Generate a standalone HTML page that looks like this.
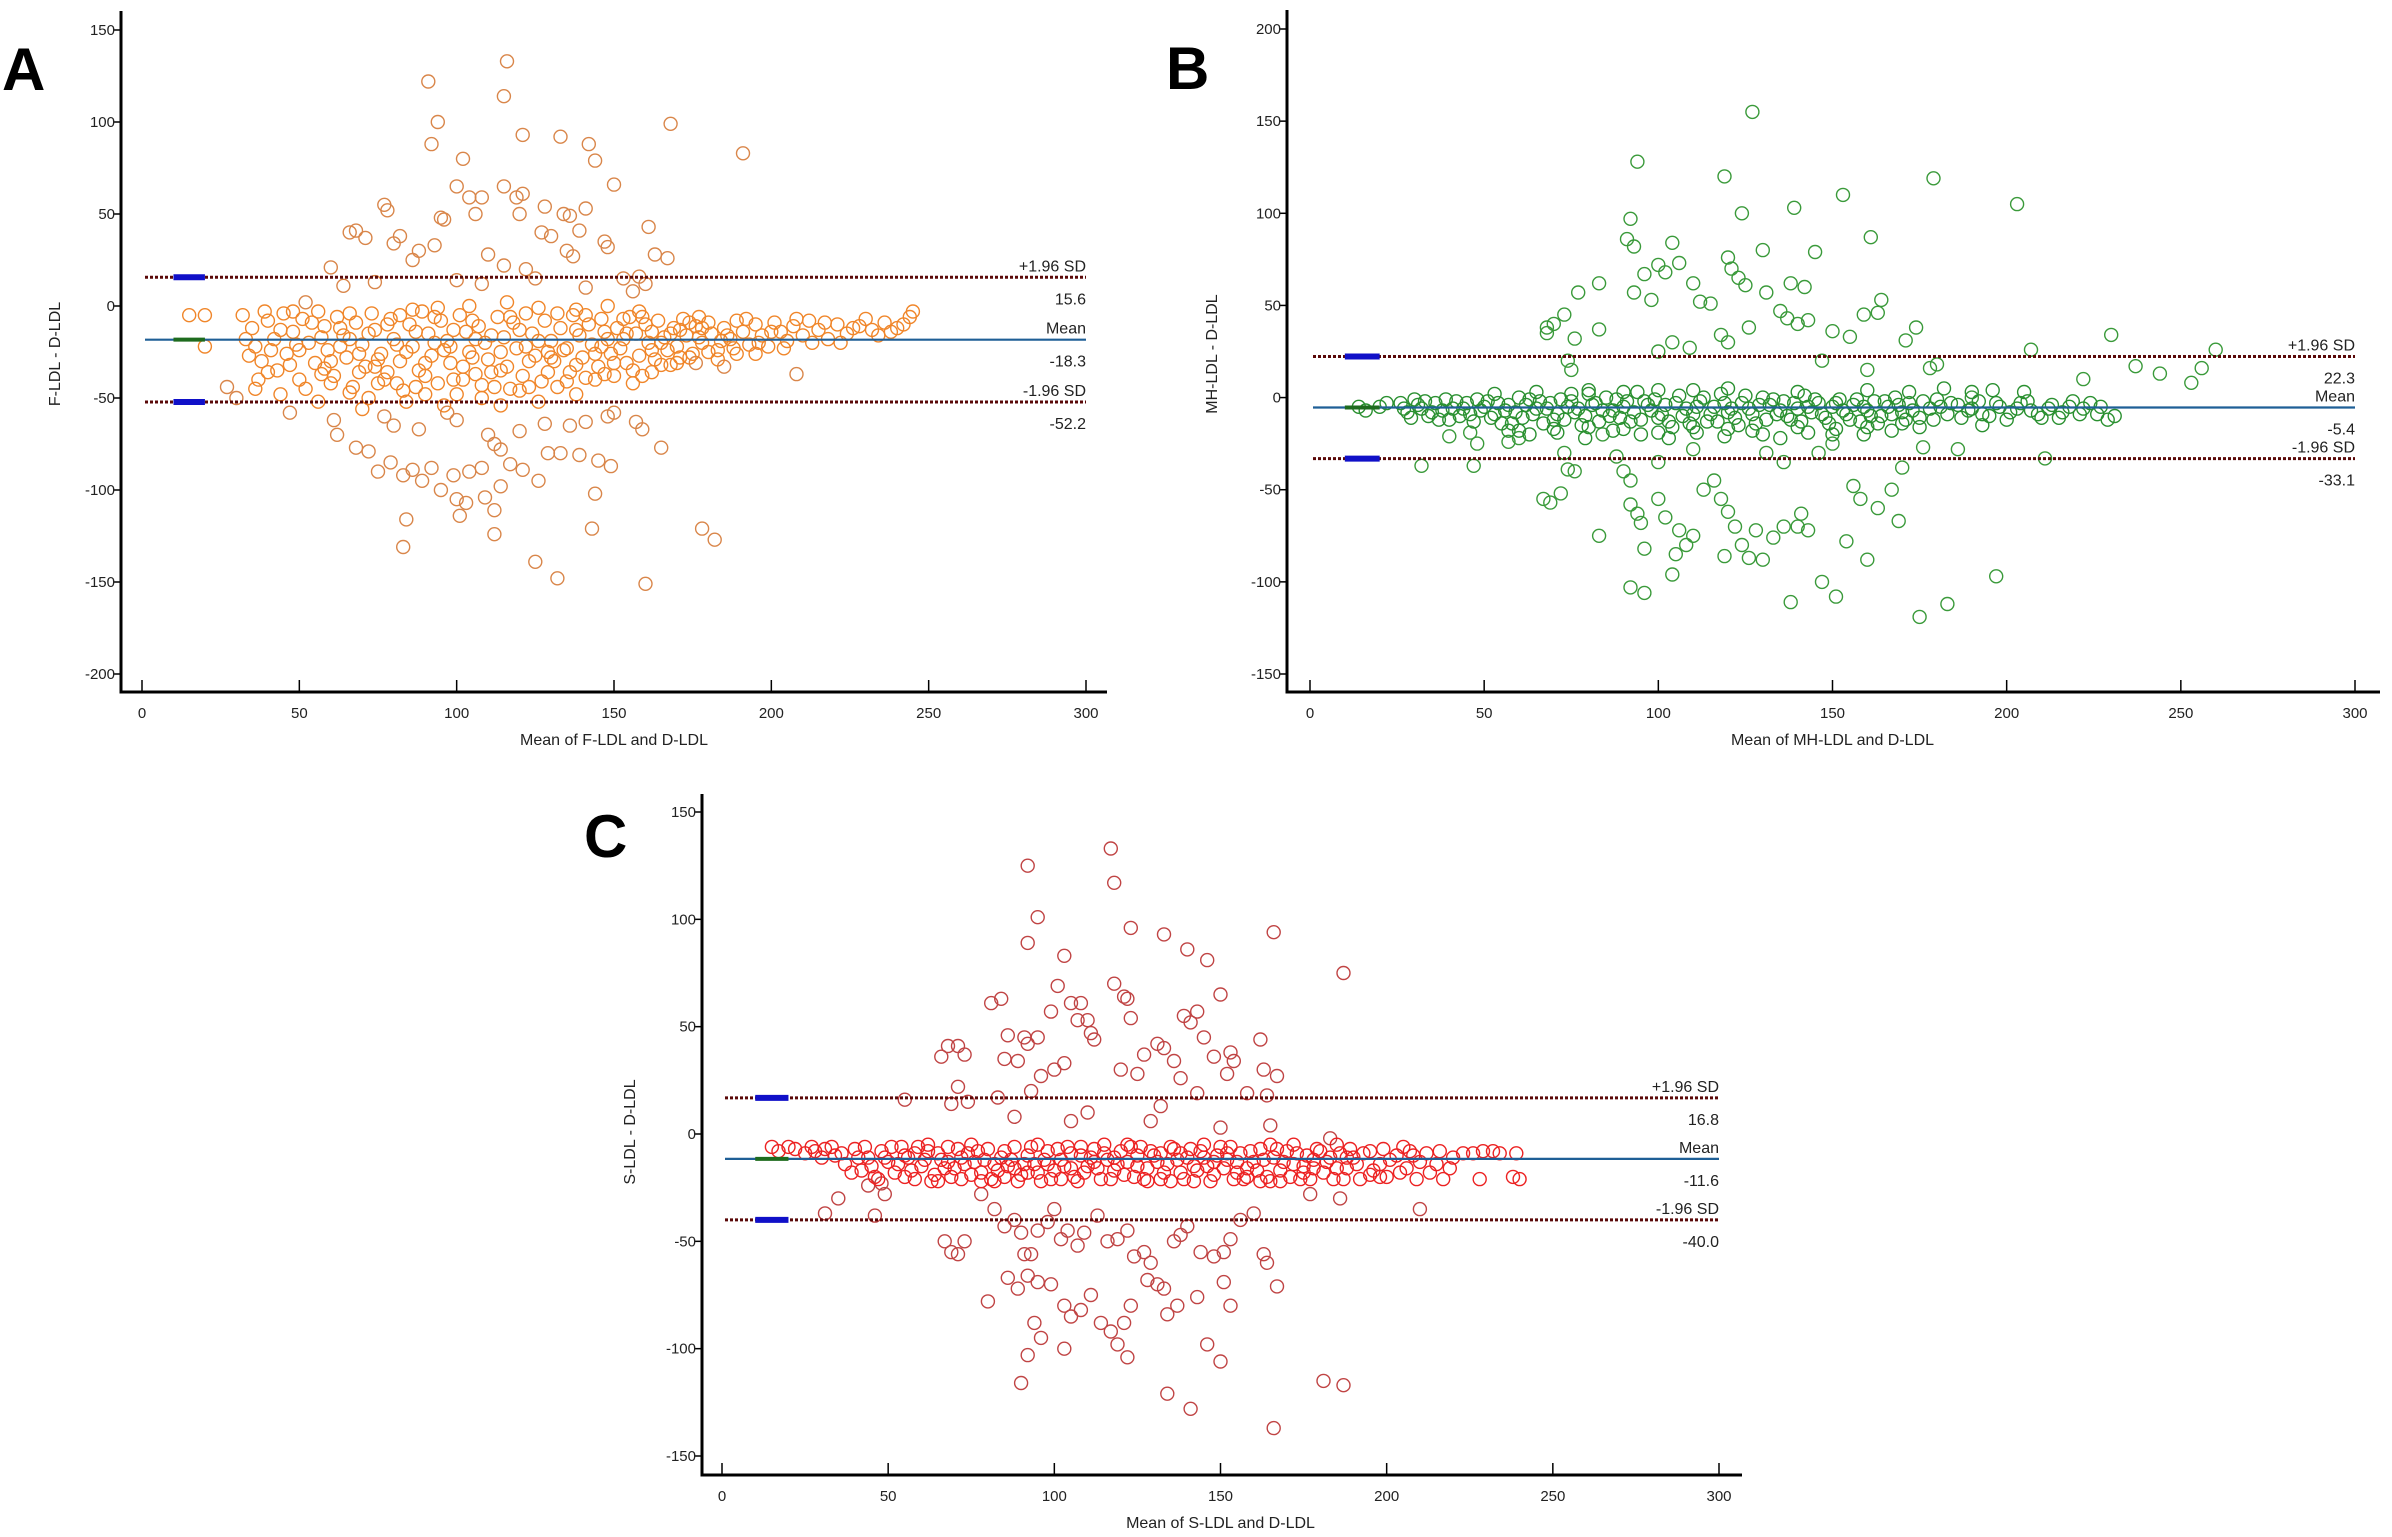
<!DOCTYPE html>
<html><head><meta charset="utf-8">
<style>
html,body{margin:0;padding:0;background:#fff;}
svg{display:block;font-family:"Liberation Sans",Arial,sans-serif;}
</style></head>
<body>
<svg id="fig" width="2392" height="1537" viewBox="0 0 2392 1537" xmlns="http://www.w3.org/2000/svg">
<rect width="2392" height="1537" fill="#fff"/>
</svg>
<script>
// ---------- Panel A data (F-LDL) ----------
const aOutliers = "91,122 116,133 115,114 94,100 92,88 168,99 191,83 121,93 133,92 142,88 102,80 144,79 150,66 115,65 100,65 104,59 108,59 119,59 121,61 120,50 77,55 78,52 141,53 128,54 134,50 136,49 106,50 161,43 96,47 66,40 68,41 71,37 82,38 80,34 95,48 130,38 127,40 139,41 147,35 148,32 167,26 163,28 60,21 88,30 93,33 110,28 115,22 122,20 137,27 135,30 153,15 158,16 156,8 160,12 52,2 86,25 74,13 64,11 100,14 108,12 125,15 141,10 27,-44 30,-50 47,-58 61,-62 62,-70 77,-60 80,-65 88,-67 97,-58 100,-62 110,-70 112,-75 120,-68 128,-64 136,-65 141,-63 148,-60 150,-58 157,-63 159,-67 165,-77 208,-37 185,-33 176,-31 75,-90 79,-85 83,-92 86,-89 89,-95 92,-88 95,-100 99,-92 104,-90 108,-88 114,-78 117,-86 121,-89 126,-95 129,-80 133,-80 139,-81 145,-84 149,-87 84,-116 83,-131 100,-105 101,-114 103,-107 109,-104 112,-111 112,-124 114,-98 125,-139 132,-148 144,-102 143,-121 160,-151 178,-121 182,-127 72,-79 68,-77";
const aBand = "32,-5 35,-12 36,-22 38,-30 40,-8 42,-18 43,-35 45,-4 46,-26 48,-14 50,-40 51,-7 53,-20 55,-31 56,-3 58,-11 59,-24 61,-38 62,-6 64,-16 65,-28 67,-44 68,-9 70,-21 71,-33 73,-4 74,-13 76,-26 77,-40 79,-7 80,-18 82,-30 83,-46 85,-10 86,-22 88,-35 89,-3 91,-15 92,-27 94,-42 95,-8 97,-19 98,-31 100,-48 101,-5 103,-14 104,-25 106,-37 107,-11 109,-20 110,-29 112,-44 113,-6 115,-17 116,-33 118,-9 119,-23 121,-38 122,-4 124,-15 125,-27 127,-41 128,-8 130,-19 131,-30 133,-12 134,-24 136,-36 137,-5 139,-16 140,-28 142,-10 143,-21 145,-33 146,-7 148,-18 149,-26 151,-12 152,-23 154,-31 155,-6 157,-15 158,-27 160,-10 161,-20 163,-29 164,-8 166,-17 167,-24 169,-12 170,-22 172,-7 173,-16 175,-26 176,-11 178,-20 180,-9 181,-15 183,-24 185,-12 187,-18 189,-8 191,-14 193,-21 195,-10 197,-16 199,-22 201,-9 203,-14 205,-19 207,-11 210,-16 212,-8 215,-13 218,-18 221,-10 224,-15 228,-11 232,-13 236,-9 240,-12 244,-6 245,-3 60,-42 66,-47 72,-50 78,-36 84,-52 90,-48 96,-54 102,-40 108,-50 114,-54 120,-46 126,-52 132,-44 138,-48 144,-40 150,-38 156,-42 162,-36 168,-32 174,-28 86,-2 94,-1 104,0 116,2 126,-1 138,-2 148,0 158,-3 44,-48 56,-52 70,-56 20,-22 15,-5 20,-5";
const aBand2 = "33,-18 34,-27 37,-40 39,-3 41,-24 44,-13 47,-32 49,-21 52,-45 54,-9 57,-17 60,-30 63,-22 66,-4 69,-36 72,-15 75,-29 78,-10 81,-42 84,-25 87,-14 90,-38 93,-6 96,-24 99,-13 102,-33 105,-8 108,-43 111,-16 114,-25 117,-45 120,-13 123,-30 126,-19 129,-36 132,-4 135,-23 138,-13 141,-39 144,-26 147,-14 150,-31 153,-18 156,-35 159,-6 162,-24 165,-32 168,-15 171,-28 174,-9 177,-17 180,-25 184,-19 188,-23 192,-7 196,-20 200,-14 204,-23 208,-7 213,-20 217,-9 222,-20 226,-12 230,-7 234,-16 238,-14 242,-10 36,-45 40,-36 48,-3 57,-37 63,-12 69,-26 75,-42 81,-21 87,-44 93,-20 99,-40 105,-28 111,-36 117,-6 123,-44 129,-25 135,-41 141,-5 147,-37 153,-7 159,-38 165,-20 171,-13 177,-6 183,-29 189,-26 195,-26 50,-24 58,-34 66,-18 74,-33 82,-5 90,-31 98,-22 106,-18 114,-35 122,-22 130,-28 138,-32 146,-22 154,-15 162,-14 170,-31 178,-12 186,-16";
const aLimits = [15.6, -18.3, -52.2];
const aYTicks = [150, 100, 50, 0, -50, -100, -150, -200];

// ---------- Panel B data (MH-LDL) ----------
const bOutliers = "127,155 94,128 119,120 179,119 153,110 203,105 124,100 139,103 92,97 91,86 93,82 161,87 130,80 145,79 120,76 104,84 100,72 102,68 96,67 106,73 121,70 123,65 125,61 131,57 138,62 142,60 83,62 77,57 93,57 110,62 112,52 115,51 98,53 164,53 163,46 159,45 135,47 137,43 140,40 143,42 174,38 171,31 150,36 155,33 68,38 70,40 73,45 68,35 76,32 83,37 118,34 120,30 126,38 230,34 260,26 207,26 190,0 237,17 244,13 256,16 253,8 222,10 178,16 180,18 74,20 100,25 104,30 109,27 147,20 160,15 75,15 32,-37 40,-21 46,-19 47,-37 48,-25 57,-24 60,-22 73,-30 74,-39 76,-40 67,-55 69,-57 72,-52 83,-75 90,-40 92,-45 92,-58 94,-63 95,-68 96,-82 92,-103 96,-106 104,-96 100,-55 102,-65 106,-72 108,-80 105,-85 110,-75 113,-50 116,-45 118,-55 120,-62 119,-86 122,-70 124,-80 126,-87 128,-72 130,-88 133,-76 136,-70 140,-70 143,-72 141,-63 138,-111 147,-100 151,-108 154,-78 156,-48 158,-55 160,-88 163,-60 167,-50 169,-67 170,-38 175,-119 183,-112 197,-97 211,-33 186,-28 176,-27 131,-30 136,-35 146,-30 150,-25 84,-20 88,-32 110,-28 100,-35";
const bBand = "14,-5 20,-5 26,-3 28,-8 30,-1 32,-6 34,-10 36,-3 38,-7 40,-12 42,-2 44,-6 46,-9 48,-1 50,-5 52,-11 54,-3 56,-7 58,-14 60,0 62,-4 64,-9 66,-2 68,-6 70,-12 72,-1 74,-5 76,-8 78,-15 80,2 82,-3 84,-7 86,-10 88,-1 90,-5 92,-13 94,3 96,-2 98,-7 100,-11 102,-4 104,-16 106,1 108,-6 110,-9 112,-2 114,-13 116,-5 118,2 120,-8 122,-11 124,-3 126,-6 128,-14 130,0 132,-4 134,-9 136,-2 138,-12 140,-6 142,1 144,-8 146,-3 148,-11 150,-5 152,-1 154,-9 156,-4 158,-13 160,-7 162,-2 164,-10 166,-5 168,0 170,-8 172,-3 175,-11 178,-6 180,-1 183,-9 186,-4 189,-7 192,-2 195,-10 198,-5 201,-8 204,-3 207,-7 210,-11 213,-4 216,-8 219,-2 222,-6 226,-9 229,-12 231,-10 205,3 196,4 182,5 172,3 110,4 100,4 90,3 75,2 65,3 53,2 57,-18 63,-20 71,-19 79,-22 87,-18 95,-20 103,-22 111,-19 119,-21 127,-18 135,-22 143,-19 151,-17 159,-20 167,-18 175,-16 193,-15";
const bBand2 = "16,-7 22,-3 27,-6 29,-11 31,-4 33,-2 35,-8 37,-12 39,-1 41,-6 43,-10 45,-3 47,-13 49,-7 51,-2 53,-9 55,-14 57,-4 59,-8 61,-11 63,-1 65,-6 67,-14 69,-3 71,-9 73,-12 75,-2 77,-6 79,-10 81,-4 83,-13 85,0 87,-7 89,-11 91,-2 93,-8 95,-12 97,-4 99,-1 101,-9 103,-13 105,-3 107,-10 109,-14 111,-5 113,0 115,-9 117,-13 119,-3 121,-6 123,-15 125,1 127,-9 129,-4 131,-12 133,-1 135,-7 137,-10 139,-3 141,-13 143,-5 145,-1 147,-9 149,-14 151,-3 153,-7 155,-12 157,-1 159,-5 161,-10 163,-14 165,-2 167,-9 169,-4 171,-12 173,-7 176,-2 179,-12 181,-5 184,-3 187,-11 190,-6 193,-9 197,-3 200,-12 203,-6 206,-2 209,-9 212,-6 215,-11 218,-5 221,-9 224,-3 227,-5 60,-18 70,-17 80,-16 90,-17 100,-19 110,-16 120,-17 130,-20 140,-16 150,-20 160,-16 170,-14 80,4 120,5 140,3 160,4 190,3";
const bLimits = [22.3, -5.4, -33.1];
const bYTicks = [200, 150, 100, 50, 0, -50, -100, -150];

// ---------- Panel C data (S-LDL) ----------
const cOutliers = "117,133 92,125 118,117 95,101 92,89 123,96 133,93 140,86 146,81 103,83 166,94 187,75 101,69 118,70 121,64 122,63 123,54 150,65 81,61 84,63 99,57 105,61 108,61 107,53 110,53 111,47 112,44 120,30 125,28 127,37 131,42 133,40 136,34 138,26 139,55 141,52 143,57 145,45 148,36 152,28 153,38 154,34 162,44 163,30 167,27 164,18 158,19 143,19 86,46 91,45 95,45 92,42 85,35 89,34 96,27 100,30 103,33 66,36 68,41 71,41 73,37 71,22 69,14 74,15 55,16 83,17 88,8 93,20 105,6 110,10 129,6 132,13 150,3 165,4 183,-2 31,-37 35,-30 44,-24 46,-38 48,-23 49,-28 67,-50 69,-55 71,-56 73,-50 78,-28 82,-35 85,-43 88,-40 90,-46 91,-56 93,-56 95,-45 98,-41 100,-35 102,-49 104,-45 107,-52 109,-46 113,-38 116,-50 119,-49 122,-45 124,-57 127,-55 129,-60 131,-70 133,-72 136,-50 138,-47 140,-43 144,-55 148,-57 151,-55 153,-49 156,-40 160,-37 163,-56 164,-60 167,-71 177,-28 186,-30 210,-35 80,-78 86,-67 89,-72 92,-66 95,-69 99,-70 103,-80 105,-85 108,-82 111,-75 114,-88 117,-92 119,-98 121,-88 123,-80 128,-68 134,-84 137,-80 143,-76 151,-69 153,-80 94,-88 96,-95 92,-103 103,-100 122,-104 146,-98 150,-106 90,-116 134,-121 141,-128 166,-137 181,-115 187,-117";
const cBand = "15,-6 20,-6 25,-9 28,-8 31,-7 34,-10 37,-14 40,-7 42,-17 44,-11 46,-20 48,-8 50,-13 52,-18 54,-6 56,-11 58,-21 60,-15 62,-8 64,-19 66,-12 68,-6 70,-16 72,-21 74,-9 76,-13 78,-18 80,-7 82,-22 84,-11 86,-15 88,-6 90,-19 92,-10 94,-14 96,-22 98,-8 100,-17 102,-12 104,-6 106,-20 108,-10 110,-15 112,-7 114,-21 116,-12 118,-17 120,-8 122,-13 124,-20 126,-6 128,-16 130,-10 132,-21 134,-14 136,-7 138,-18 140,-11 142,-22 144,-8 146,-15 148,-19 150,-6 152,-12 154,-21 156,-9 158,-16 160,-13 162,-7 164,-20 166,-11 168,-17 170,-8 172,-14 174,-21 176,-10 178,-16 180,-8 182,-13 184,-21 186,-9 188,-16 190,-11 192,-21 195,-8 198,-14 200,-20 203,-10 206,-16 209,-21 212,-9 215,-14 217,-21 220,-11 226,-9 228,-21 232,-8 238,-20 240,-21 239,-9 55,-20 65,-22 75,-5 85,-20 95,-5 105,-16 115,-5 125,-10 135,-22 145,-5 155,-18 165,-5 175,-18 185,-5 195,-19 205,-6 62,-5 72,-11 82,-14 92,-18 102,-21 112,-13 122,-5 132,-9 142,-15 152,-9 162,-22 172,-5";
const cBand2 = "17,-8 22,-7 27,-6 30,-11 33,-6 36,-9 39,-18 41,-11 43,-6 45,-15 47,-21 49,-11 51,-6 53,-14 55,-10 57,-17 59,-6 61,-12 63,-22 65,-9 67,-16 69,-20 71,-7 73,-14 75,-19 77,-8 79,-12 81,-21 83,-17 85,-8 87,-12 89,-22 91,-14 93,-6 95,-18 97,-12 99,-21 101,-7 103,-15 105,-9 107,-22 109,-18 111,-11 113,-16 115,-9 117,-21 119,-14 121,-19 123,-6 125,-15 127,-21 129,-8 131,-13 133,-18 135,-6 137,-12 139,-21 141,-7 143,-17 145,-11 147,-22 149,-10 151,-16 153,-6 155,-13 157,-21 159,-8 161,-17 163,-12 165,-22 167,-7 169,-13 171,-20 173,-9 175,-15 177,-21 179,-7 181,-18 183,-11 185,-16 187,-21 189,-7 191,-14 193,-9 196,-17 199,-7 201,-12 204,-18 207,-8 210,-13 213,-18 216,-8 219,-16 223,-9 229,-8 234,-9 58,-9 68,-13 78,-22 88,-16 98,-14 108,-6 118,-11 128,-22 138,-9 148,-13 158,-20 168,-22 178,-12 188,-11 198,-20 208,-10";
const cLimits = [16.8, -11.6, -40.0];
const cYTicks = [150, 100, 50, 0, -50, -100, -150];

const xTicks = [0, 50, 100, 150, 200, 250, 300];

const NS = "http://www.w3.org/2000/svg";
const svg = document.getElementById('fig');
function mk(tag, attrs, parent) {
  const e = document.createElementNS(NS, tag);
  for (const k in attrs) e.setAttribute(k, attrs[k]);
  (parent || svg).appendChild(e);
  return e;
}
function parsePts(s) { return s.trim().split(/\s+/).map(p => p.split(',').map(Number)); }

function drawPanel(cfg) {
  const g = mk('g', {});
  
  
  const xs = v => cfg.x0 + (v - 0) / 300 * (cfg.x300 - cfg.x0);
  const ys = v => cfg.yTop + (cfg.yMax - v) / (cfg.yMax - cfg.yMin) * (cfg.yBot - cfg.yTop);

  function drawSet(str, color, name) {
    const pg = mk('g', {fill: 'none', stroke: color, 'stroke-width': 1.4}, g);
    
    
    parsePts(str).forEach(p => {
      const c = mk('circle', {cx: xs(p[0]).toFixed(1), cy: ys(p[1]).toFixed(1), r: 6.5}, pg);
      
      
    });
  }
  drawSet(cfg.out, cfg.outColor, 'outlier-points');
  drawSet(cfg.band, cfg.bandColor, 'band-points');
  drawSet(cfg.band2, cfg.bandColor, 'band-points-extra');

  const names = ['upper-limit', 'mean', 'lower-limit'];
  const tops = ['+1.96 SD', 'Mean', '-1.96 SD'];
  cfg.limits.forEach((v, i) => {
    const y = ys(v);
    let ln;
    if (i === 1) {
      ln = mk('line', {x1: xs(0) + 3, x2: xs(300), y1: y, y2: y, stroke: '#1f5f96', 'stroke-width': 2.2}, g);
      const s = mk('line', {x1: xs(10), x2: xs(20), y1: y, y2: y, stroke: '#1e6b1e', 'stroke-width': 4}, g);
      
      
    } else {
      ln = mk('line', {x1: xs(0) + 3, x2: xs(300), y1: y, y2: y, stroke: '#5a0808', 'stroke-width': 3, 'stroke-dasharray': '3,2'}, g);
      const s = mk('line', {x1: xs(10), x2: xs(20), y1: y, y2: y, stroke: '#1010c8', 'stroke-width': 6}, g);
      
      
    }
    
    
    const t1 = mk('text', {x: xs(300), y: y - 6, 'text-anchor': 'end', 'font-size': 16, fill: '#222'}, g);
    t1.textContent = tops[i];
    
    
    const t2 = mk('text', {x: xs(300), y: y + 27, 'text-anchor': 'end', 'font-size': 16, fill: '#222'}, g);
    t2.textContent = v.toFixed(1);
    
    
  });

  const ya = mk('line', {x1: cfg.axX, x2: cfg.axX, y1: cfg.axTop, y2: cfg.axY + 1.5, stroke: '#000', 'stroke-width': 3}, g);
  
  
  const xa = mk('line', {x1: cfg.axX - 1.5, x2: cfg.axRight, y1: cfg.axY, y2: cfg.axY, stroke: '#000', 'stroke-width': 3}, g);
  
  

  cfg.yTicks.forEach(v => {
    const y = ys(v);
    mk('line', {x1: cfg.axX - 8, x2: cfg.axX, y1: y, y2: y, stroke: '#000', 'stroke-width': 1.5}, g);
    const t = mk('text', {x: cfg.axX - 6, y: y + 5, 'text-anchor': 'end', 'font-size': 15, fill: '#222'}, g);
    t.textContent = v;
    
    
  });
  xTicks.forEach(v => {
    const x = xs(v);
    mk('line', {x1: x, x2: x, y1: cfg.axY - 12, y2: cfg.axY, stroke: '#000', 'stroke-width': 1.5}, g);
    const t = mk('text', {x: x, y: cfg.axY + 26, 'text-anchor': 'middle', 'font-size': 15, fill: '#222'}, g);
    t.textContent = v;
    
    
  });
  const xl = mk('text', {x: (xs(0) + xs(300)) / 2, y: cfg.axY + 53, 'text-anchor': 'middle', 'font-size': 16, fill: '#222'}, g);
  xl.textContent = cfg.xTitle;
  
  
  const ylx = cfg.yTitleX, yly = cfg.yTitleY;
  const yl = mk('text', {x: ylx, y: yly, 'text-anchor': 'middle', 'font-size': 16, fill: '#222', transform: `rotate(-90 ${ylx} ${yly})`}, g);
  yl.textContent = cfg.yTitle;
  
  
  const L = mk('text', {x: cfg.letterX, y: cfg.letterY, 'font-size': 60, 'font-weight': 'bold', fill: '#000'}, g);
  L.textContent = cfg.letter;
  
  
}

drawPanel({id: 'panel-a', out: aOutliers, band: aBand, band2: aBand2, limits: aLimits, yTicks: aYTicks,
  outColor: '#d9864a', bandColor: '#f0862a',
  x0: 142, x300: 1086, yMax: 150, yMin: -200, yTop: 30, yBot: 674,
  axX: 121, axTop: 11, axY: 692, axRight: 1107,
  xTitle: 'Mean of F-LDL and D-LDL', yTitle: 'F-LDL - D-LDL', yTitleX: 60, yTitleY: 354,
  letter: 'A', letterX: 2, letterY: 90});
drawPanel({id: 'panel-b', out: bOutliers, band: bBand, band2: bBand2, limits: bLimits, yTicks: bYTicks,
  outColor: '#3a9a3a', bandColor: '#2a9030',
  x0: 1310, x300: 2355, yMax: 200, yMin: -150, yTop: 29, yBot: 674,
  axX: 1287, axTop: 10, axY: 692, axRight: 2380,
  xTitle: 'Mean of MH-LDL and D-LDL', yTitle: 'MH-LDL - D-LDL', yTitleX: 1217, yTitleY: 354,
  letter: 'B', letterX: 1166, letterY: 89});
drawPanel({id: 'panel-c', out: cOutliers, band: cBand, band2: cBand2, limits: cLimits, yTicks: cYTicks,
  outColor: '#c04444', bandColor: '#ec2222',
  x0: 722, x300: 1719, yMax: 150, yMin: -150, yTop: 812, yBot: 1456,
  axX: 702, axTop: 794, axY: 1475, axRight: 1742,
  xTitle: 'Mean of S-LDL and D-LDL', yTitle: 'S-LDL - D-LDL', yTitleX: 635, yTitleY: 1132,
  letter: 'C', letterX: 584, letterY: 857});
</script>
</body></html>
